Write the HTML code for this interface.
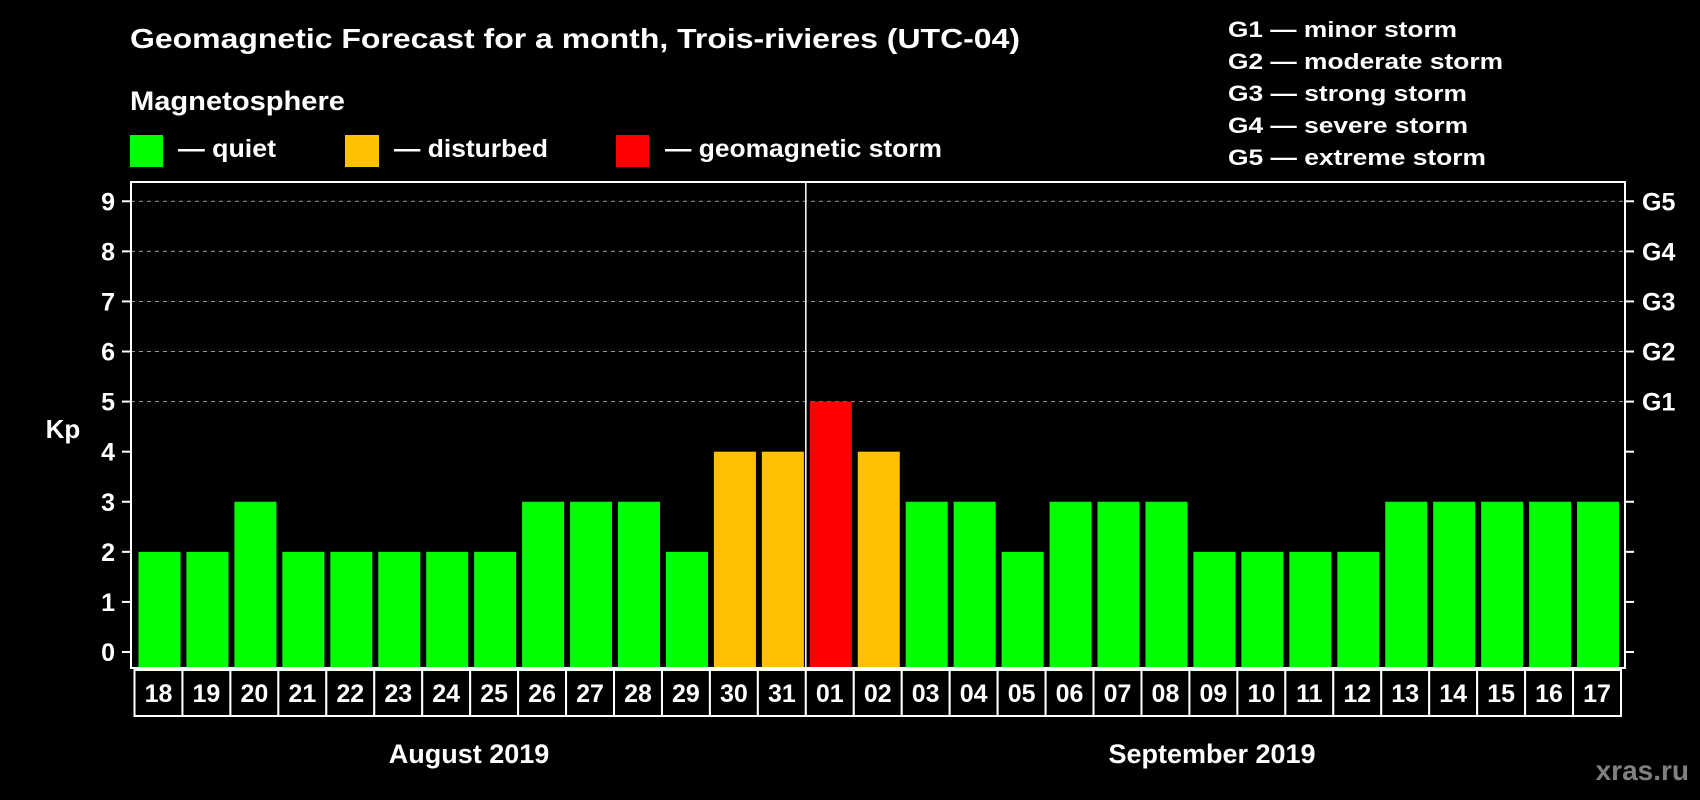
<!DOCTYPE html>
<html><head><meta charset="utf-8"><style>
html,body{margin:0;padding:0;background:#000;width:1700px;height:800px;overflow:hidden}
svg{display:block;font-family:"Liberation Sans",Arial,sans-serif;font-weight:bold}
</style></head><body>
<svg id="chart" width="1700" height="800" viewBox="0 0 1700 800">
<rect width="1700" height="800" fill="#000"/>
<text x="130" y="48" font-size="28" fill="#fff" textLength="890" lengthAdjust="spacingAndGlyphs">Geomagnetic Forecast for a month, Trois-rivieres (UTC-04)</text>
<text x="130" y="110" font-size="27" fill="#fff" textLength="215" lengthAdjust="spacingAndGlyphs">Magnetosphere</text>
<g><rect x="130" y="135" width="33" height="32" fill="#00ff00"/><text x="178" y="157" font-size="25" fill="#fff" textLength="98" lengthAdjust="spacingAndGlyphs">— quiet</text></g>
<g><rect x="345" y="135" width="34" height="32" fill="#ffc000"/><text x="394" y="157" font-size="25" fill="#fff" textLength="154" lengthAdjust="spacingAndGlyphs">— disturbed</text></g>
<g><rect x="616" y="135" width="33" height="32" fill="#ff0000"/><text x="665" y="157" font-size="25" fill="#fff" textLength="277" lengthAdjust="spacingAndGlyphs">— geomagnetic storm</text></g>
<g font-size="22" fill="#fff">
<text x="1228" y="37" textLength="229" lengthAdjust="spacingAndGlyphs">G1 — minor storm</text>
<text x="1228" y="69" textLength="275" lengthAdjust="spacingAndGlyphs">G2 — moderate storm</text>
<text x="1228" y="101" textLength="239" lengthAdjust="spacingAndGlyphs">G3 — strong storm</text>
<text x="1228" y="133" textLength="240" lengthAdjust="spacingAndGlyphs">G4 — severe storm</text>
<text x="1228" y="165" textLength="258" lengthAdjust="spacingAndGlyphs">G5 — extreme storm</text>
</g>
<text x="63" y="438" font-size="26" fill="#fff" text-anchor="middle">Kp</text>
<g id="plot"></g>
<text x="469" y="763" font-size="27" fill="#fff" text-anchor="middle">August 2019</text>
<text x="1212" y="763" font-size="27" fill="#fff" text-anchor="middle">September 2019</text>
<text x="1689" y="780" font-size="28" fill="#808080" text-anchor="end">xras.ru</text>
</svg>
<script>
const days = ["18","19","20","21","22","23","24","25","26","27","28","29","30","31","01","02","03","04","05","06","07","08","09","10","11","12","13","14","15","16","17"];
const kpValues = [2,2,3,2,2,2,2,2,3,3,3,2,4,4,5,4,3,3,2,3,3,3,2,2,2,2,3,3,3,3,3];
const yTicks = [0,1,2,3,4,5,6,7,8,9];
const gLabels = ["G1","G2","G3","G4","G5"];
const gLevels = [5,6,7,8,9];
const monthSplitIndex = 14;

const NS = "http://www.w3.org/2000/svg";
const plot = document.getElementById("plot");
const L = 131, R = 1625, T = 182, B = 668;
const cellX0 = 134.5, cellW = (1621 - 134.5) / days.length;
function yScale(v){ return 652 - v * 50.08; }
function xCell(i){ return cellX0 + i * cellW; }
function mk(tag, attrs){ const e = document.createElementNS(NS, tag); for (const k in attrs) e.setAttribute(k, attrs[k]); plot.appendChild(e); return e; }
function color(v){ return v >= 5 ? "#ff0000" : (v >= 4 ? "#ffc000" : "#00ff00"); }

gLevels.forEach((lv) => {
  const g = mk("line", {x1: L, x2: R, y1: yScale(lv), y2: yScale(lv), stroke: "#9a9a9a", "stroke-width": 1, "stroke-dasharray": "4,4"});
  
  
});
yTicks.forEach((t) => {
  const y = yScale(t);
  const tl = mk("line", {x1: L - 9, x2: L, y1: y, y2: y, stroke: "#fff", "stroke-width": 2});
  
  
  const tr = mk("line", {x1: R, x2: R + 9, y1: y, y2: y, stroke: "#fff", "stroke-width": 2});
  
  
  const lb = mk("text", {x: 115, y: y + 9, "font-size": 25, fill: "#fff", "text-anchor": "end"});
  lb.textContent = t;
  
  
});
gLevels.forEach((lv, i) => {
  const lb = mk("text", {x: 1642, y: yScale(lv) + 9, "font-size": 25, fill: "#fff"});
  lb.textContent = gLabels[i];
  
  
});
kpValues.forEach((v, i) => {
  const b = mk("rect", {x: xCell(i) + 4, y: yScale(v), width: 42, height: B - yScale(v), fill: color(v)});
  
  
});
const frame = mk("rect", {x: L, y: T, width: R - L, height: B - T, fill: "none", stroke: "#fff", "stroke-width": 2});


const sep = mk("line", {x1: xCell(monthSplitIndex), x2: xCell(monthSplitIndex), y1: T, y2: B, stroke: "#fff", "stroke-width": 1.5});


days.forEach((d, i) => {
  const c = mk("rect", {x: xCell(i), y: 670, width: cellW, height: 46, fill: "#000", stroke: "#fff", "stroke-width": 2});
  
  
  const t = mk("text", {x: xCell(i) + cellW / 2, y: 702, "font-size": 25, fill: "#fff", "text-anchor": "middle"});
  t.textContent = d;
  
  
});
</script>
</body></html>
